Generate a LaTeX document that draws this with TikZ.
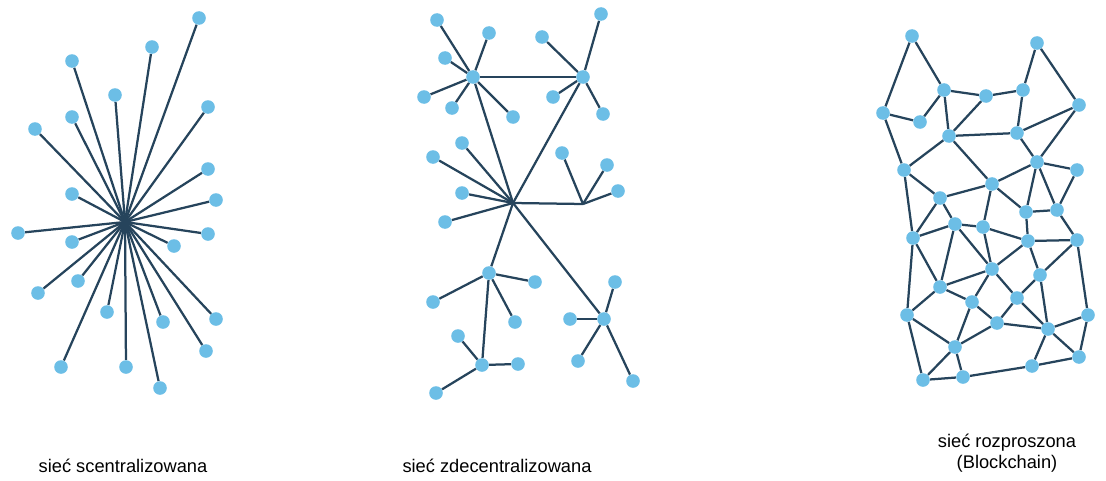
\documentclass[tikz,border=0pt]{standalone}
\usepackage{fontspec}
\setmainfont{Liberation Sans}
\usetikzlibrary{backgrounds}
\definecolor{dotblue}{RGB}{108,190,230}
\definecolor{linkblue}{RGB}{38,68,92}

\begin{document}
\begin{tikzpicture}[
  x=0.25mm, y=-0.25mm,
  font=\fontsize{13}{15}\selectfont,
  dot/.style={circle,fill=dotblue,inner sep=0pt,minimum size=3.4mm},
  link/.style={draw=linkblue,line width=1.6pt},
  caption/.style={align=center,inner sep=0pt},
]
\useasboundingbox (0,0) rectangle (1106,480);

% siec scentralizowana
\coordinate (sc) at (125,222);
\foreach \n/\x/\y in {1/199/18, 2/152/47, 3/72/61, 4/115/95, 5/208/107,
  6/72/117, 7/35/129, 8/208/169, 9/216/200, 10/72/194, 11/18/233,
  12/208/234, 13/72/242, 14/174/246, 15/38/293, 16/78/281, 17/107/312,
  18/163/322, 19/216/319, 20/206/351, 21/61/367, 22/126/367, 23/160/388} {
  \node[dot] (s\n) at (\x,\y) {};
}
\begin{scope}[on background layer]
\foreach \n in {1,...,23} {
  \draw[link] (sc) -- (s\n);
}
\end{scope}

% siec zdecentralizowana
\coordinate (dc) at (513,203);
\coordinate (dj) at (583,204);
\foreach \n/\x/\y in {h1/473/77, h2/583/77, h5/489/273, h6/604/319, h7/482/365,
  a1/437/20, a2/489/33, a3/445/58, a4/424/97, a5/452/108, a6/513/117,
  b1/601/14, b2/542/37, b3/553/97, b4/603/114,
  c1/462/143, c2/433/157, c3/462/193, c4/445/222,
  j1/562/153, j2/607/165, j3/618/191,
  e1/535/282, e2/433/302, e3/515/322,
  g1/458/336, g2/518/364, g3/436/393,
  f1/615/282, f2/570/319, f3/578/361, f4/633/381} {
  \node[dot] (d\n) at (\x,\y) {};
}
\begin{scope}[on background layer]
\foreach \p/\q in {dh1/dh2, dh1/dc, dh2/dc, dc/dj, dc/dh5, dc/dh6, dh5/dh7,
  dh1/da1, dh1/da2, dh1/da3, dh1/da4, dh1/da5, dh1/da6,
  dh2/db1, dh2/db2, dh2/db3, dh2/db4,
  dc/dc1, dc/dc2, dc/dc3, dc/dc4,
  dj/dj1, dj/dj2, dj/dj3,
  dh5/de1, dh5/de2, dh5/de3,
  dh7/dg1, dh7/dg2, dh7/dg3,
  dh6/df1, dh6/df2, dh6/df3, dh6/df4} {
  \draw[link] (\p) -- (\q);
}
\end{scope}

% siec rozproszona
\foreach \n/\x/\y in {a/912/36, b/1037/43, c/944/90, d/986/96, e/1023/90,
  f/1079/105, g/883/113, h/920/122, i/949/136, j/1017/133, k/1037/162,
  l/1077/170, m/904/170, n/992/184, o/940/198, p/1026/212, q/1057/210,
  r/955/224, s/983/227, t/913/238, u/1028/241, v/1077/240, w/992/269,
  x/1040/275, y/940/287, z/972/302, A/1017/298, B/907/315, C/1088/315,
  D/997/323, E/1048/329, F/955/347, G/1079/357, H/1032/366, I/923/380,
  J/963/377} {
  \node[dot] (r\n) at (\x,\y) {};
}
\begin{scope}[on background layer]
\foreach \p/\q in {a/c, a/g, b/e, b/f, c/h, g/h, c/d, d/e, c/i, d/i, e/j,
  i/j, j/f, f/k, g/m, i/m, i/n, j/k, k/n, k/l, k/p, k/q, l/q, q/v, m/o,
  m/t, n/o, n/s, n/p, p/q, p/u, o/t, o/r, r/t, r/s, s/u, u/v, r/y, r/w,
  s/w, u/w, u/x, v/x, v/C, t/y, t/B, w/y, w/z, w/A, y/z, y/B, z/D, z/F,
  A/D, A/x, A/E, x/E, D/E, D/F, B/F, B/I, F/I, F/J, I/J, J/H, H/E, H/G,
  E/C, E/G, C/G} {
  \draw[link] (r\p) -- (r\q);
}
\end{scope}

\node[caption] (capS) at (123,466) {sieć scentralizowana};
\node[caption] (capD) at (497,466) {sieć zdecentralizowana};
\node[caption] (capR) at (1007,453) {sieć rozproszona\\(Blockchain)};

\end{tikzpicture}
\end{document}
